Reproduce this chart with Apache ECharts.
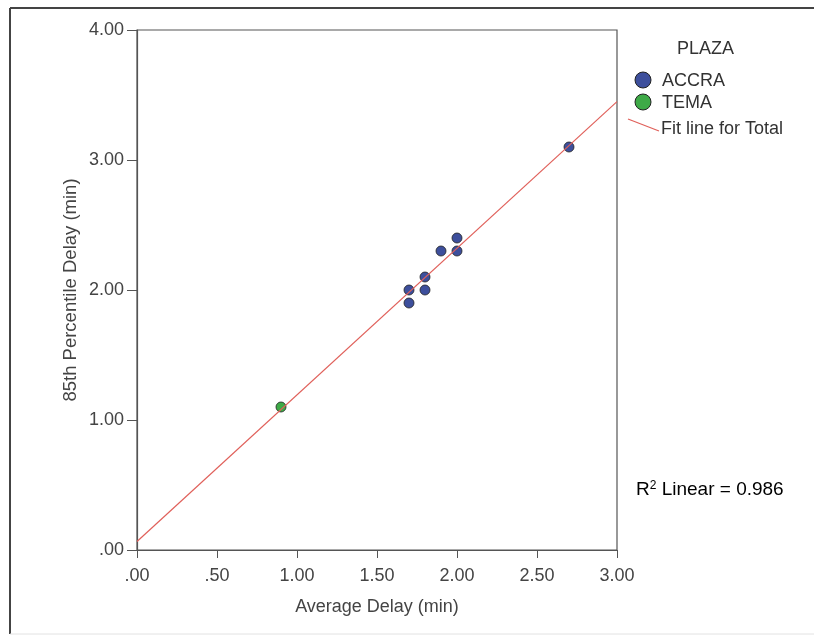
<!DOCTYPE html>
<html>
<head>
<meta charset="utf-8">
<script src="https://cdn.jsdelivr.net/npm/echarts@6/dist/echarts.min.js"></script>
<style>
  html, body { margin: 0; padding: 0; background: #fff; }
  #main { width: 814px; height: 637px; }
</style>
</head>
<body>
<div id="main"></div>
<script>
// data
var accraX = [1.7, 1.7, 1.8, 1.8, 1.9, 2.0, 2.0, 2.7];
var accraY = [2.0, 1.9, 2.0, 2.1, 2.3, 2.3, 2.4, 3.1];
var temaX = [0.9];
var temaY = [1.1];
var groups = ['ACCRA', 'TEMA'];
var r2Text = '0.986';

var blue = '#3d4f9c';
var green = '#3eaa47';
var red = '#e0605a';

function pairs(xs, ys) {
  return xs.map(function (x, i) { return [x, ys[i]]; });
}

// least squares fit over all points (the "Total" fit line)
var allX = accraX.concat(temaX);
var allY = accraY.concat(temaY);
var mx = allX.reduce(function (a, b) { return a + b; }, 0) / allX.length;
var my = allY.reduce(function (a, b) { return a + b; }, 0) / allY.length;
var sxx = 0, sxy = 0;
allX.forEach(function (x, i) {
  sxx += (x - mx) * (x - mx);
  sxy += (x - mx) * (allY[i] - my);
});
var slope = sxy / sxx;
var icept = my - slope * mx;
var fitLine = [[0, icept], [3, icept + slope * 3]];

// SPSS style labels: .00, .50, 1.00 ...
function fmt(v) {
  var s = v.toFixed(2);
  return s.charAt(0) === '0' ? s.slice(1) : s;
}

var font = 'Liberation Sans, Arial, sans-serif';
var myChart = echarts.init(document.getElementById('main'));

var option = {
  backgroundColor: '#fff',
  animation: false,
  textStyle: { fontFamily: font },
  grid: {
    left: 137, top: 30, width: 480, height: 520,
    show: true, borderColor: '#555', borderWidth: 1.2, backgroundColor: '#fff'
  },
  xAxis: {
    type: 'value', min: 0, max: 3, interval: 0.5,
    name: 'Average Delay (min)', nameLocation: 'middle', nameGap: 48, nameMoveOverlap: false,
    nameTextStyle: { color: '#444', fontSize: 18, fontFamily: font },
    axisLine: { show: true, lineStyle: { color: '#555', width: 1.2 } },
    axisTick: { show: true, length: 8, lineStyle: { color: '#555' } },
    axisLabel: { color: '#444', fontSize: 18, margin: 17, formatter: fmt },
    splitLine: { show: false }
  },
  yAxis: {
    type: 'value', min: 0, max: 4, interval: 1,
    name: '85th Percentile Delay (min)', nameLocation: 'middle', nameGap: 57, nameMoveOverlap: false,
    nameTextStyle: { color: '#444', fontSize: 18.5, fontFamily: font },
    axisLine: { show: true, lineStyle: { color: '#555', width: 1.2 } },
    axisTick: { show: true, length: 10, lineStyle: { color: '#555' } },
    axisLabel: { color: '#444', fontSize: 18, margin: 13, formatter: fmt },
    splitLine: { show: false }
  },
  graphic: [
    { type: 'text', left: 677, top: 40, style: { text: 'PLAZA', font: '18px ' + font, fill: '#333' } },
    { type: 'circle', shape: { cx: 643, cy: 80, r: 8 }, style: { fill: blue, stroke: '#222', lineWidth: 1 } },
    { type: 'text', left: 662, top: 72, style: { text: groups[0], font: '18px ' + font, fill: '#333' } },
    { type: 'circle', shape: { cx: 643, cy: 102, r: 8 }, style: { fill: green, stroke: '#222', lineWidth: 1 } },
    { type: 'text', left: 662, top: 94, style: { text: groups[1], font: '18px ' + font, fill: '#333' } },
    { type: 'line', shape: { x1: 628, y1: 119, x2: 659, y2: 131 }, style: { stroke: red, lineWidth: 1.2 } },
    { type: 'text', left: 661, top: 120, style: { text: 'Fit line for Total', font: '18px ' + font, fill: '#333' } },
    { type: 'text', left: 636, top: 480, style: {
        text: '{b|R}{s|2}{b| Linear = ' + r2Text + '}',
        rich: {
          b: { fontSize: 19, fontFamily: font, color: '#333', verticalAlign: 'bottom' },
          s: { fontSize: 12, fontFamily: font, color: '#333', verticalAlign: 'top', padding: [0, 0, 7, 0] }
        }
      } },
    { type: 'line', shape: { x1: 10, y1: 8, x2: 814, y2: 8 }, style: { stroke: '#444', lineWidth: 2 } },
    { type: 'line', shape: { x1: 10, y1: 8, x2: 10, y2: 634 }, style: { stroke: '#444', lineWidth: 2 } },
    { type: 'line', shape: { x1: 10, y1: 634, x2: 814, y2: 634 }, style: { stroke: '#e2e2e2', lineWidth: 1 } }
  ],
  series: [
    {
      name: groups[0], type: 'scatter', symbolSize: 10,
      itemStyle: { color: blue, borderColor: '#222', borderWidth: 0.8, opacity: 1 },
      data: pairs(accraX, accraY), z: 3
    },
    {
      name: groups[1], type: 'scatter', symbolSize: 10,
      itemStyle: { color: green, borderColor: '#222', borderWidth: 0.8, opacity: 1 },
      data: pairs(temaX, temaY), z: 3
    },
    {
      name: 'Fit line for Total', type: 'line', showSymbol: false, symbol: 'none',
      lineStyle: { color: red, width: 1.2 },
      data: fitLine, z: 4, silent: true
    }
  ]
};
myChart.setOption(option);
</script>
</body>
</html>
